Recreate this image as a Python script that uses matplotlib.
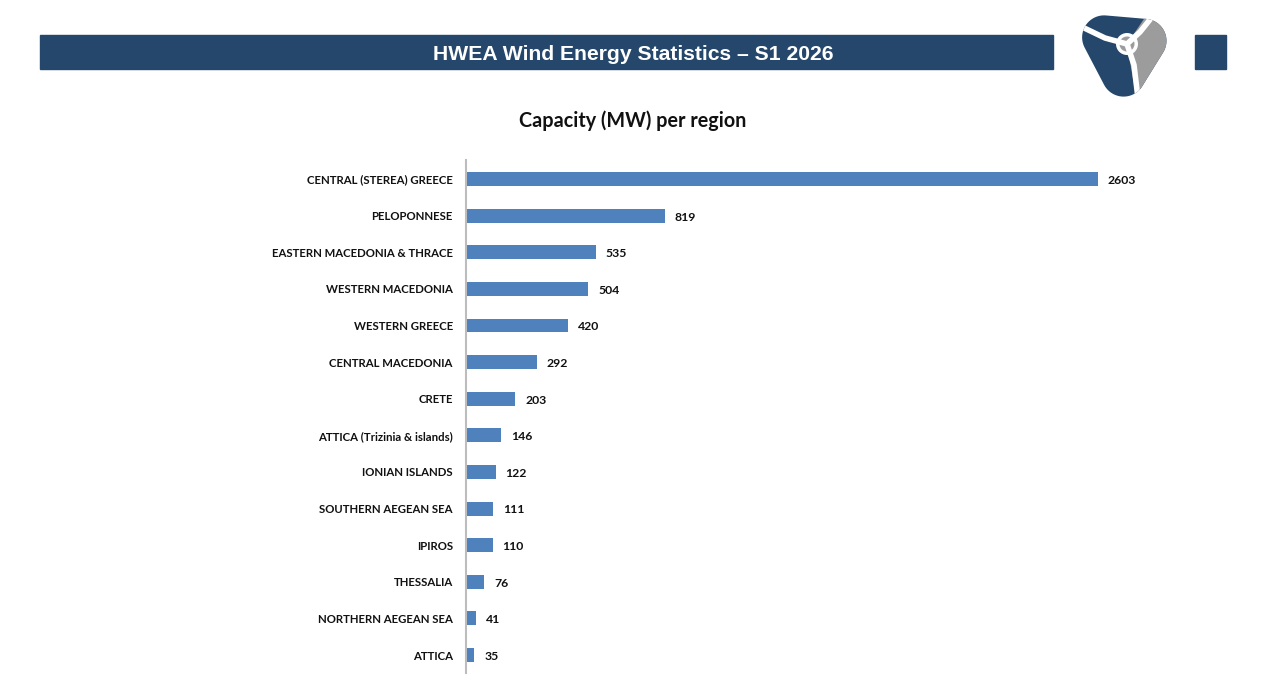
import numpy as np
import matplotlib
matplotlib.use("Agg")
import matplotlib.pyplot as plt
from matplotlib.patches import Polygon, Circle, Rectangle

# data
regions = [
    "CENTRAL (STEREA) GREECE",
    "PELOPONNESE",
    "EASTERN MACEDONIA & THRACE",
    "WESTERN MACEDONIA",
    "WESTERN GREECE",
    "CENTRAL MACEDONIA",
    "CRETE",
    "ATTICA (Trizinia & islands)",
    "IONIAN ISLANDS",
    "SOUTHERN AEGEAN SEA",
    "IPIROS",
    "THESSALIA",
    "NORTHERN AEGEAN SEA",
    "ATTICA",
]
capacity_mw = [2603, 819, 535, 504, 420, 292, 203, 146, 122, 111, 110, 76, 41, 35]

header_text = "HWEA Wind Energy Statistics \u2013 S1 2026"
chart_title = "Capacity (MW) per region"

W, H = 1265, 696
NAVY = "#24476b"
BAR = "#4f81bd"
GREY = "#9c9c9c"

plt.rcParams["font.family"] = ["Lato", "DejaVu Sans"]

fig = plt.figure(figsize=(W / 100, H / 100), dpi=100)


def fx(px):
    return px / W


def fy(py):
    return 1 - py / H


# main bar chart, placed in pixel terms
left, right, top, bottom = 466, 1160, 160, 673
ax = fig.add_axes([fx(left), fy(bottom), fx(right) - fx(left), fy(top) - fy(bottom)])
ypos = np.arange(len(regions))
ax.barh(ypos, capacity_mw, height=0.38, color=BAR, zorder=2)
ax.set_xlim(0, 2858)
ax.set_ylim(13.49, -0.52)
ax.set_yticks(ypos)
ax.set_yticklabels(regions, fontsize=8.2, fontweight="bold", color="#111111")
ax.tick_params(axis="y", length=0, pad=9.5)
ax.set_xticks([])
for s in ["top", "right", "bottom"]:
    ax.spines[s].set_visible(False)
ax.spines["left"].set_color("#bdbdbd")
ax.spines["left"].set_linewidth(1.5)
for y, v in zip(ypos, capacity_mw):
    ax.annotate(str(v), (v, y), xytext=(7, -1), textcoords="offset points",
                va="center", ha="left", fontsize=8.8, fontweight="bold", color="#111111")

# overlay for header, title and logo (pixel coordinates)
ov = fig.add_axes([0, 0, 1, 1], zorder=-1)
ov.set_xlim(0, W)
ov.set_ylim(H, 0)
ov.axis("off")

ov.add_patch(Rectangle((40, 35), 1013, 34, color=NAVY))
ov.add_patch(Rectangle((1195, 35), 31, 34, color=NAVY))
ov.text(633, 54, header_text, ha="center", va="center", color="white",
        fontsize=15.2, fontweight="bold", family=["Liberation Sans", "DejaVu Sans"])
fig.text(fx(633), fy(121), chart_title, ha="center", va="center",
         fontsize=14.2, fontweight="bold", color="#111111")


# logo: rounded triangle split blue / grey with white blades
def rounded_poly(pts, r, n=24):
    pts = np.asarray(pts, float)
    out = []
    k = len(pts)
    for i in range(k):
        p0, p1, p2 = pts[i - 1], pts[i], pts[(i + 1) % k]
        d1 = (p1 - p0) / np.linalg.norm(p1 - p0)
        d2 = (p2 - p1) / np.linalg.norm(p2 - p1)
        n1 = np.array([d1[1], -d1[0]])
        n2 = np.array([d2[1], -d2[0]])
        a1 = np.arctan2(n1[1], n1[0])
        a2 = np.arctan2(n2[1], n2[0])
        while a2 < a1:
            a2 += 2 * np.pi
        c = p1 - r * (n1 + n2) / (1 + np.dot(n1, n2))
        for a in np.linspace(a1, a2, n):
            out.append(c + r * np.array([np.cos(a), np.sin(a)]))
    return np.array(out)


corners = [(1066, 12), (1182, 22), (1122, 119)]
shape_pts = rounded_poly(corners, 22)
hub = np.array([1127, 44])
body = Polygon(shape_pts, closed=True, color=NAVY, lw=0)
ov.add_patch(body)
grey = Polygon([hub, (1150, 10), (1200, 20), (1200, 120), (1140, 120)],
               closed=True, color=GREY, lw=0)
ov.add_patch(grey)
grey.set_clip_path(body)
blades = [
    [(1127, 44), (1105, 38), (1080, 26)],
    [(1127, 44), (1140, 32), (1156, 12)],
    [(1127, 44), (1134, 65), (1140, 115)],
]
for b in blades:
    xs, ys = zip(*b)
    ln, = ov.plot(xs, ys, color="white", lw=4.0, solid_capstyle="butt")
    ln.set_clip_path(body)
ov.add_patch(Circle(hub, 11, color="white", lw=0))
ov.add_patch(Circle(hub, 7.5, color=GREY, lw=0))

fig.savefig("out.png", dpi=100)
